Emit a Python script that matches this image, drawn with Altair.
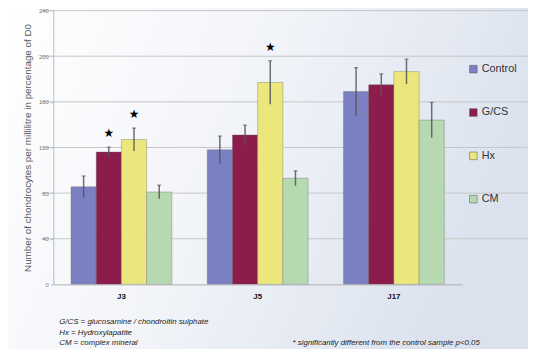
import altair as alt
import pandas as pd

days = ["J3", "J5", "J17"]
series = ["Control", "G/CS", "Hx", "CM"]
colors = ["#7b80c2", "#8c1c4c", "#ece77c", "#b6d9b1"]

control = [85.5, 118, 169]
gcs = [116, 131, 175]
hx = [127, 177, 186.5]
cm = [81, 93, 144]

control_err = [9.5, 12, 21]
gcs_err = [4.3, 8.6, 9.5]
hx_err = [10, 19, 11]
cm_err = [6, 6.5, 15.5]

# significant differences (*)
stars = [("J3", "G/CS"), ("J3", "Hx"), ("J5", "Hx")]

y_ticks = [0, 40, 80, 120, 160, 200, 240]

footnotes_left = [
    "G/CS = glucosamine / chondroitin sulphate",
    "Hx = Hydroxylapatite",
    "CM = complex mineral",
]
footnote_right = "* significantly different from the control sample p<0.05"
y_title = "Number of chondrocytes per millilitre in percentage of D0"

rows = []
for s, vals, errs in zip(series, [control, gcs, hx, cm],
                         [control_err, gcs_err, hx_err, cm_err]):
    for d, v, e in zip(days, vals, errs):
        rows.append({"day": d, "series": s, "value": v,
                     "lo": v - e, "hi": v + e,
                     "star": "★" if (d, s) in stars else ""})
df = pd.DataFrame(rows)

W, H = 415, 278

yscale = alt.Scale(domain=[0, 240], nice=False)

x = alt.X("day:N", sort=days, title=None,
          scale=alt.Scale(paddingInner=0.26, paddingOuter=0.13),
          axis=alt.Axis(labelFontSize=8, labelFontWeight="bold", labelColor="#111",
                        ticks=False, labelPadding=8, domainColor="#b0b0b0",
                        labelAngle=0, labelFont="Liberation Sans", zindex=1))
xo = alt.XOffset("series:N", sort=series)
color = alt.Color("series:N", sort=series,
                  scale=alt.Scale(domain=series, range=colors),
                  legend=alt.Legend(title=None, orient="none", legendX=421, legendY=54,
                                    symbolType="square", symbolSize=60,
                                    symbolStrokeColor="#555", symbolStrokeWidth=0.5,
                                    labelFontSize=11, labelColor="#333",
                                    labelFont="Liberation Sans",
                                    rowPadding=32, labelOffset=3))

bg = alt.Chart(pd.DataFrame({"a": [0]})).mark_rect(
    color=alt.Gradient(gradient="linear", x1=0, y1=0, x2=1, y2=0.3,
                       stops=[alt.GradientStop(color="#ffffff", offset=0),
                              alt.GradientStop(color="#f3f5f9", offset=0.45),
                              alt.GradientStop(color="#dbe2ee", offset=1)])
).encode(x=alt.value(-46), x2=alt.value(W + 80), y=alt.value(-8), y2=alt.value(H + 75))

grid = alt.Chart(pd.DataFrame({"g": y_ticks[1:]})).mark_rule(
    color="#c6c6c6", strokeWidth=1).encode(
    y=alt.Y("g:Q", scale=yscale), x=alt.value(-12), x2=alt.value(W + 80))

bars = alt.Chart(df).mark_bar(stroke="#666", strokeWidth=0.6, strokeOpacity=0.6).encode(
    x=x, xOffset=xo,
    y=alt.Y("value:Q", title=y_title, scale=yscale,
            axis=alt.Axis(values=y_ticks, labelFontSize=6,
                          labelColor="#777", titleFontSize=10, titleColor="#555",
                          titleFontWeight="normal", titlePadding=6,
                          titleFont="Liberation Sans", labelFont="Liberation Sans",
                          tickSize=3, tickColor="#bbb", domainColor="#bbb",
                          grid=False, zindex=1)),
    color=color,
)

errs = alt.Chart(df).mark_rule(color="#555", strokeWidth=1.5, opacity=0.85).encode(
    x=x, xOffset=xo, y="lo:Q", y2="hi:Q")
caps = alt.Chart(df).mark_tick(color="#555", size=4, thickness=1.2, orient="horizontal").encode(
    x=x, xOffset=xo, y="hi:Q")

star_txt = alt.Chart(df).mark_text(fontSize=12, color="#000", dy=-14,
                                   font="DejaVu Sans").encode(
    x=x, xOffset=xo, y="hi:Q", text="star:N")

foot_left = alt.Chart(pd.DataFrame({"t": ["\n".join(footnotes_left)]})).mark_text(
    align="left", baseline="top", fontSize=8, lineHeight=11, lineBreak="\n",
    fontStyle="italic", color="#222", font="Liberation Sans").encode(
    x=alt.value(6), y=alt.value(H + 34), text="t:N")
foot_right = alt.Chart(pd.DataFrame({"t": [footnote_right]})).mark_text(
    align="left", baseline="top", fontSize=8, fontStyle="italic", color="#222",
    font="Liberation Sans").encode(x=alt.value(243), y=alt.value(H + 56), text="t:N")

chart = alt.layer(bg, grid, bars, errs, caps, star_txt, foot_left, foot_right).properties(
    width=W, height=H,
    autosize=alt.AutoSizeParams(type="none"),
    padding={"left": 46, "top": 0, "right": 67, "bottom": 63},
    background="#eef1f6",
).configure_view(stroke=None)

chart.save("out.html", embed_options={"renderer": "svg", "actions": False})
